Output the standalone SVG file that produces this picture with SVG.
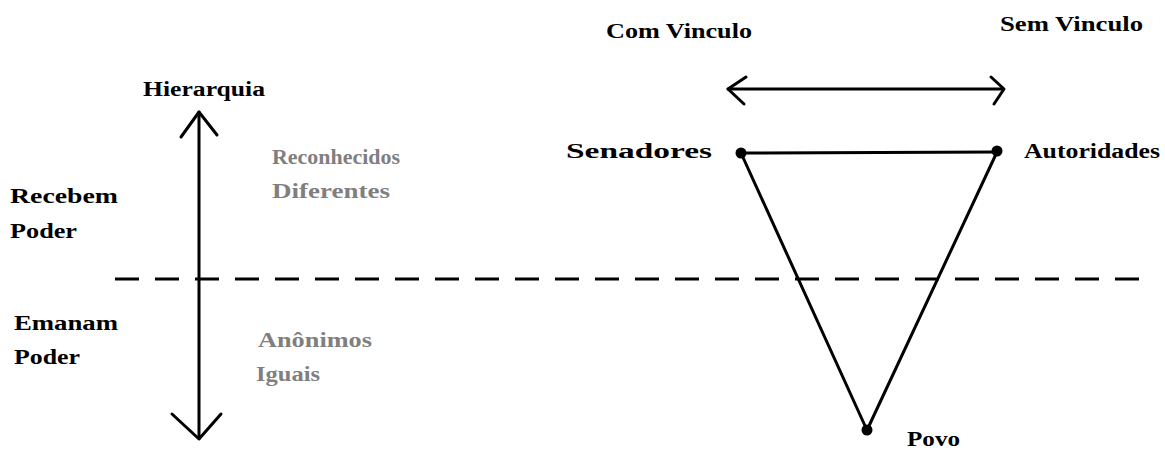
<svg xmlns="http://www.w3.org/2000/svg" width="1165" height="451" viewBox="0 0 1165 451">
<style>
  text { font-family: "Liberation Serif", "DejaVu Serif", serif; font-weight: bold; font-size: 20px; }
  .dark { fill: #000; }
  .gray { fill: #7f7f7f; }
  .ln { stroke: #000; stroke-width: 3; fill: none; stroke-linecap: round; stroke-linejoin: round; }
  .dash { stroke: #000; stroke-width: 3; fill: none; stroke-dasharray: 24 16; }
</style>
<rect width="1165" height="451" fill="#fff"/>
<g id="connectors">
  <line class="dash" x1="115" y1="279" x2="1147" y2="279"/>
  <line class="ln" x1="199" y1="112" x2="199" y2="438"/>
  <polyline class="ln" points="181,137 199,112 217,135"/>
  <polyline class="ln" points="172,414 199,439 221,414"/>
  <line class="ln" x1="728" y1="89" x2="1003" y2="89"/>
  <polyline class="ln" points="746,77 728,89 744,104"/>
  <polyline class="ln" points="991,77 1004,89 994,104"/>
  <line class="ln" x1="741" y1="153" x2="997" y2="152"/>
  <line class="ln" x1="741" y1="153" x2="866" y2="428"/>
  <line class="ln" x1="997" y1="152" x2="868" y2="428"/>
</g>
<g id="node-senadores"><circle cx="741" cy="153" r="5.5"/><text class="dark" x="566" y="158" textLength="146" lengthAdjust="spacingAndGlyphs">Senadores</text></g>
<g id="node-autoridades"><circle cx="997" cy="151" r="5.5"/><text class="dark" x="1024" y="158" textLength="136" lengthAdjust="spacingAndGlyphs">Autoridades</text></g>
<g id="node-povo"><circle cx="867" cy="430" r="5.5"/><text class="dark" x="907" y="446" textLength="53" lengthAdjust="spacingAndGlyphs">Povo</text></g>
<g id="labels">
  <text class="dark" x="606" y="38" textLength="146" lengthAdjust="spacingAndGlyphs">Com Vinculo</text>
  <text class="dark" x="1000" y="31" textLength="143" lengthAdjust="spacingAndGlyphs">Sem Vinculo</text>
  <text class="dark" x="143" y="96" textLength="122" lengthAdjust="spacingAndGlyphs">Hierarquia</text>
  <text class="gray" x="272" y="164" textLength="128" lengthAdjust="spacingAndGlyphs">Reconhecidos</text>
  <text class="gray" x="272" y="198" textLength="118" lengthAdjust="spacingAndGlyphs">Diferentes</text>
  <text class="dark" x="10" y="203" textLength="108" lengthAdjust="spacingAndGlyphs">Recebem</text>
  <text class="dark" x="10" y="238" textLength="67" lengthAdjust="spacingAndGlyphs">Poder</text>
  <text class="dark" x="14" y="330" textLength="104" lengthAdjust="spacingAndGlyphs">Emanam</text>
  <text class="dark" x="14" y="364" textLength="66" lengthAdjust="spacingAndGlyphs">Poder</text>
  <text class="gray" x="258" y="347" textLength="114" lengthAdjust="spacingAndGlyphs">Anônimos</text>
  <text class="gray" x="256" y="381" textLength="64" lengthAdjust="spacingAndGlyphs">Iguais</text>
</g>
</svg>
